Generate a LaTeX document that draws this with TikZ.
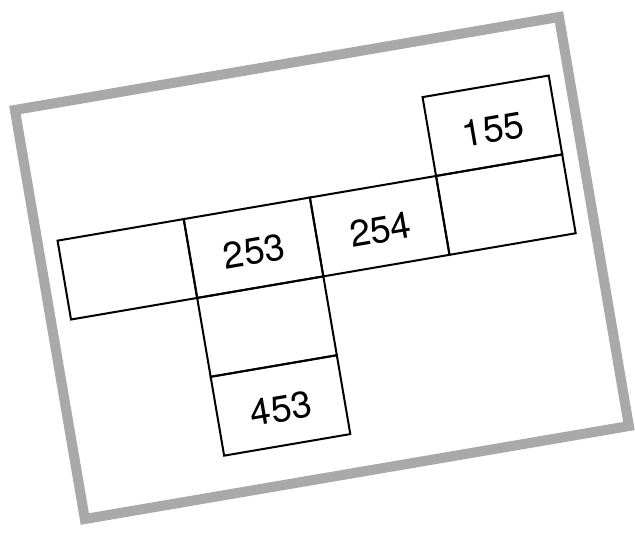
\documentclass[tikz,border=0pt]{standalone}
\usepackage{fontspec}
\setmainfont{TeX Gyre Heros}
\usepackage{xcolor}
\definecolor{rahmen}{HTML}{A9A9A9}
\usepackage{tikz}

\begin{document}
\begin{tikzpicture}[x=1pt,y=1pt,font=\fontsize{37}{37}\selectfont,
  feld/.style={draw,line width=2pt,minimum width=128pt,minimum height=80pt,inner sep=0pt,text height=33pt,text depth=0pt}]
  \useasboundingbox (0,0) rectangle (635,533);
  \begin{scope}[shift={(322,264.5)},rotate=9.7,transform shape]
  \draw[rahmen,line width=10pt] (-276,-207) rectangle (276,208);
  \node[feld] (a) at (192,112) {155};
  \node[feld] (l) at (-192,32) {};
  \node[feld] (b) at (-64,32) {253};
  \node[feld] (c) at (64,32) {254};
  \node[feld] (r) at (192,32) {};
  \node[feld] (m) at (-64,-48) {};
  \node[feld] (d) at (-64,-128) {453};
  \end{scope}
\end{tikzpicture}
\end{document}
